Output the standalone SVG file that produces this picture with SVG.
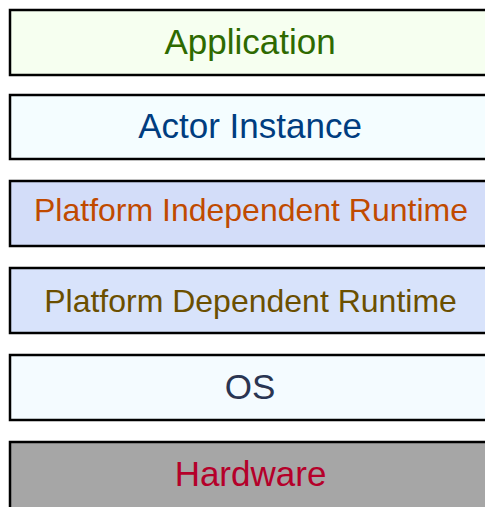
<svg xmlns="http://www.w3.org/2000/svg" width="485" height="507" viewBox="0 0 485 507">
<style>
.box{stroke:#000;stroke-width:2.5}
.lbl{font-family:"Liberation Sans",Arial,sans-serif;font-size:35px;text-anchor:middle}
.sm{font-size:32px}
</style>
<rect width="485" height="507" fill="#fff"/>
<g id="application"><rect class="box" x="10" y="10" width="480" height="65" fill="#f6fff0"/><text class="lbl" x="250" y="54" fill="#2e6a00">Application</text></g>
<g id="actor-instance"><rect class="box" x="10" y="95" width="480" height="64" fill="#f4fdff"/><text class="lbl" x="250" y="138" fill="#003d80">Actor Instance</text></g>
<g id="platform-independent-runtime"><rect class="box" x="10" y="181" width="480" height="65" fill="#d3ddf9"/><text class="lbl sm" x="251" y="221" fill="#c04a00">Platform Independent Runtime</text></g>
<g id="platform-dependent-runtime"><rect class="box" x="10" y="268" width="480" height="65" fill="#d8e3fb"/><text class="lbl sm" x="250.5" y="312" fill="#6b4f00">Platform Dependent Runtime</text></g>
<g id="os"><rect class="box" x="10" y="355" width="480" height="65" fill="#f4fbff"/><text class="lbl" x="250" y="399" fill="#2a3552">OS</text></g>
<g id="hardware"><rect class="box" x="10" y="442" width="480" height="70" fill="#a6a6a6"/><text class="lbl" x="250.5" y="486" fill="#b5002a">Hardware</text></g>
<g id="connectors"></g>
</svg>
